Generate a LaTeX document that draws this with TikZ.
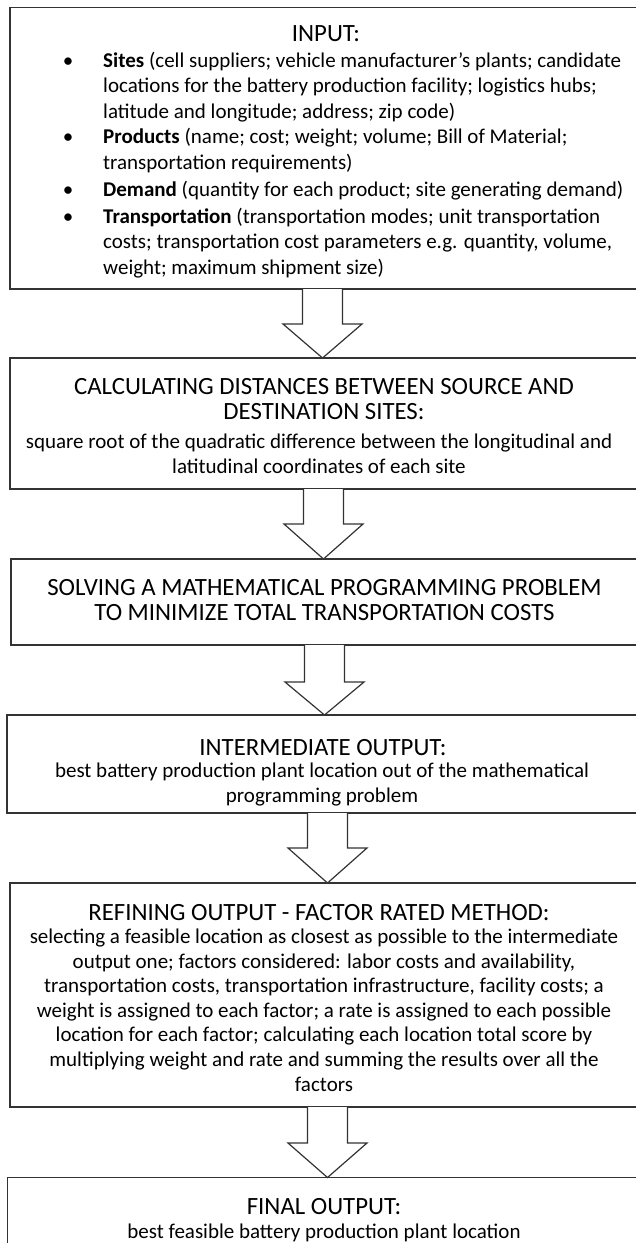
\documentclass[tikz,border=0pt]{standalone}
\usepackage{fontspec}
\setmainfont{Carlito}
\usetikzlibrary{calc}
\begin{document}
\begin{tikzpicture}[x=1pt,y=-1pt,
  box/.style={draw=black!80, line width=1.3pt, anchor=north west, outer sep=0pt, inner sep=0pt, minimum width=640pt},
  ttl/.style={font=\fontsize{24.8}{25.5}\selectfont, anchor=base, align=center, inner sep=1pt},
  bdy/.style={font=\fontsize{21}{24.6}\selectfont, anchor=base, align=center, inner sep=1pt},
  itm/.style={font=\fontsize{21}{25.5}\selectfont, anchor=base west, align=left, inner sep=1pt},
  bul/.style={font=\fontsize{21}{25.5}\selectfont, anchor=base, inner sep=1pt},
  barrow/.style={draw=black!80, line width=1.2pt, fill=white, line join=miter}]
\useasboundingbox (0,0) rectangle (636,1243);

% boxes
\node[box, minimum height=281.5pt] (b1) at (10,7.5) {};
\node[box, minimum height=131pt]   (b2) at (10,358) {};
\node[box, minimum height=86pt]    (b3) at (11,559) {};
\node[box, minimum height=98pt]    (b4) at (7,715) {};
\node[box, minimum height=224pt]   (b5) at (10,883) {};
\node[box, minimum height=100pt]   (b6) at (7.5,1177.5) {};

% arrow axes
\coordinate (x1) at (322.5,0);
\coordinate (x2) at (323.5,0);
\coordinate (x3) at (324.5,0);
\coordinate (x4) at (327.5,0);
\coordinate (x5) at (327.5,0);

\newcommand\blockarr[3]{%
  \draw[barrow] ($(#1)+(-20,0)$) -- ($(#1)+(-20,#3)$) -- ($(#1)+(-39.5,#3)$)
    -- (#2) -- ($(#1)+(39.5,#3)$) -- ($(#1)+(20,#3)$) -- ($(#1)+(20,0)$);}

\blockarr{b1.south -| x1}{b2.north -| x1}{35}
\blockarr{b2.south -| x2}{b3.north -| x2}{35}
\blockarr{b3.south -| x3}{b4.north -| x3}{37}
\blockarr{b4.south -| x4}{b5.north -| x4}{35}
\blockarr{b5.south -| x5}{b6.north -| x5}{36}

% box 1 (multi-line nodes are anchored at the baseline of their last line)
\node[ttl] (t1) at (326,41) {INPUT:};
\node[bul] (u1) at (68,67) {\textbullet};
\node[bul] (u2) at (68,143.5) {\textbullet};
\node[bul] (u3) at (68,196) {\textbullet};
\node[bul] (u4) at (68,223) {\textbullet};
\node[itm] (i1) at (102,118) {\textbf{Sites} (cell suppliers; vehicle manufacturer’s plants; candidate\\locations for the battery production facility; logistics hubs;\\latitude and longitude; address; zip code)};
\node[itm] (i2) at (102,169) {\textbf{Products} (name; cost; weight; volume; Bill of Material;\\transportation requirements)};
\node[itm] (i3) at (102,196) {\textbf{Demand} (quantity for each product; site generating demand)};
\node[itm] (i4) at (102,274) {\textbf{Transportation} (transportation modes; unit transportation\\costs; transportation cost parameters e.g. quantity, volume,\\weight; maximum shipment size)};

% box 2
\node[ttl] (t2) at (324,419.5) {CALCULATING DISTANCES BETWEEN SOURCE AND\\DESTINATION SITES:};
\node[bdy] (d2) at (319,473) {square root of the quadratic difference between the longitudinal and\\latitudinal coordinates of each site};

% box 3
\node[ttl] (t3) at (324.5,620.5) {SOLVING A MATHEMATICAL PROGRAMMING PROBLEM\\TO MINIMIZE TOTAL TRANSPORTATION COSTS};

% box 4
\node[ttl] (t4) at (323,755) {INTERMEDIATE OUTPUT:};
\node[bdy] (d4) at (322,802) {best battery production plant location out of the mathematical\\programming problem};

% box 5
\node[ttl] (t5) at (319,920) {REFINING OUTPUT - FACTOR RATED METHOD:};
\node[bdy] (d5) at (324,1091) {selecting a feasible location as closest as possible to the intermediate\\output one; factors considered: labor costs and availability,\\transportation costs, transportation infrastructure, facility costs; a\\weight is assigned to each factor; a rate is assigned to each possible\\location for each factor; calculating each location total score by\\multiplying weight and rate and summing the results over all the\\factors};

% box 6
\node[ttl] (t6) at (324,1214) {FINAL OUTPUT:};
\node[bdy] (d6) at (324,1238) {best feasible battery production plant location};
\end{tikzpicture}
\end{document}
